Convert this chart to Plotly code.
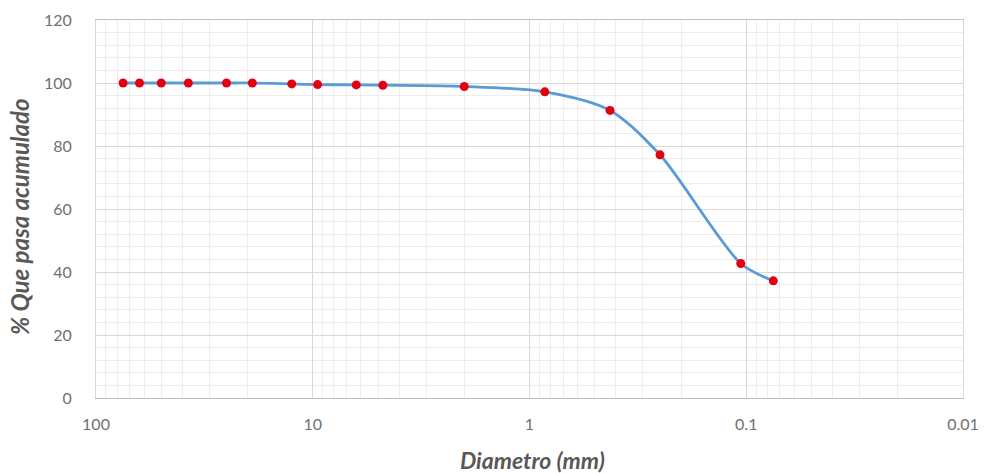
import plotly.graph_objects as go

diametro_mm = [75, 63, 50, 37.5, 25, 19, 12.5, 9.5, 6.3, 4.75, 2, 0.85, 0.425, 0.25, 0.106, 0.075]
pasa_pct = [100, 100, 100, 100, 100, 100, 99.7, 99.5, 99.4, 99.3, 98.9, 97.2, 91.3, 77.2, 42.7, 37.2]
x_ticks = [100, 10, 1, 0.1, 0.01]
x_tick_labels = ["100", "10", "1", "0.1", "0.01"]
y_ticks = [0, 20, 40, 60, 80, 100, 120]
x_title = "<b><i>Diametro (mm)</i></b>"
y_title = "<b><i>% Que pasa acumulado</i></b>"

font = "Lato, 'Open Sans', sans-serif"
gray = "#595959"

fig = go.Figure()
fig.add_trace(go.Scatter(
    x=diametro_mm, y=pasa_pct, mode="lines",
    line=dict(color="#5B9BD5", width=2.8, shape="spline", smoothing=0.8),
    hoverinfo="skip", showlegend=False))
fig.add_trace(go.Scatter(
    x=diametro_mm, y=pasa_pct, mode="markers",
    marker=dict(color="#E3000F", size=9),
    showlegend=False))

fig.update_layout(
    width=990, height=473,
    margin=dict(l=96, r=27, t=20, b=75),
    paper_bgcolor="white", plot_bgcolor="white",
    font=dict(family=font, color=gray, size=16),
    annotations=[
        dict(text=x_title, xref="paper", yref="paper", x=0.503, y=0,
             yshift=-62, xanchor="center", yanchor="middle", showarrow=False,
             font=dict(size=23, color=gray)),
        dict(text=y_title, xref="paper", yref="paper", x=0, y=0.479,
             xshift=-76, xanchor="center", yanchor="middle", showarrow=False,
             textangle=-90, font=dict(size=24, color=gray)),
    ],
)
fig.update_xaxes(
    type="log", range=[2, -2], automargin=False,
    tickvals=x_ticks, ticktext=x_tick_labels,
    showgrid=True, gridcolor="#D9D9D9", gridwidth=1,
    minor=dict(showgrid=True, dtick="D1", gridcolor="#EDEDED", gridwidth=1),
    showline=True, linecolor="#BFBFBF", linewidth=1, mirror=True,
    ticks="", zeroline=False, ticklabelstandoff=12,
    tickfont=dict(size=16, color="#707070"),
)
fig.update_yaxes(
    range=[0, 120], tickvals=y_ticks, automargin=False,
    showgrid=True, gridcolor="#D9D9D9", gridwidth=1,
    minor=dict(showgrid=True, dtick=4, gridcolor="#EDEDED", gridwidth=1),
    showline=True, linecolor="#D9D9D9", linewidth=1, mirror=True,
    ticks="", zeroline=False, ticklabelstandoff=20,
    tickfont=dict(size=16, color="#707070"),
)
fig.write_html("out.html")
